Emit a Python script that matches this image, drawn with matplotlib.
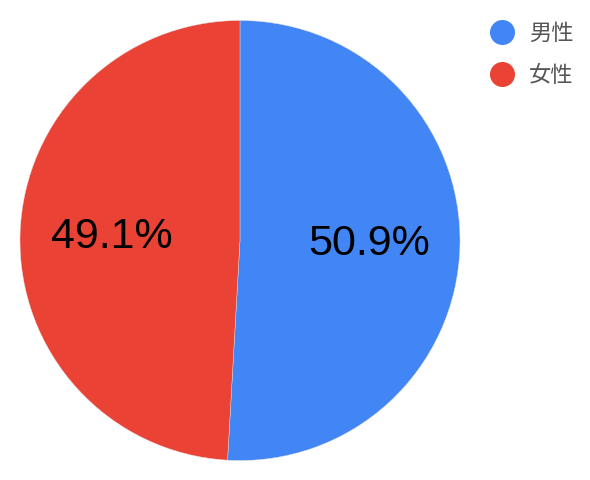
import matplotlib.pyplot as plt
from matplotlib.lines import Line2D

# Data
labels = ['男性', '女性']
values = [50.9, 49.1]
colors = ['#4285F4', '#EA4335']

plt.rcParams['font.family'] = ['Liberation Sans', 'DejaVu Sans']

fig = plt.figure(figsize=(5.9, 4.8), dpi=100)
ax = fig.add_axes([0, 0, 1, 1])

wedges, texts, autotexts = ax.pie(values, colors=colors, startangle=90, counterclock=False,
                                  center=(240, 239.5), radius=220, frame=True,
                                  autopct='%.1f%%', pctdistance=0.585,
                                  wedgeprops=dict(linewidth=0.3, edgecolor='#dddddd'),
                                  textprops=dict(fontsize=31, color='black'))
ax.set_xlim(0, 590)
ax.set_ylim(0, 480)
ax.set_aspect('equal')
ax.axis('off')

handles = [Line2D([], [], marker='o', linestyle='none', markersize=17,
                  markerfacecolor=c, markeredgecolor=c) for c in colors]
leg = fig.legend(handles, labels, loc='upper left', bbox_to_anchor=(489 / 590, 1 - 22 / 480),
                 frameon=False, handlelength=1.2, handletextpad=0.6,
                 labelspacing=0.86, borderpad=0, borderaxespad=0,
                 prop={'family': ['Noto Sans CJK JP', 'DejaVu Sans'], 'size': 16})
for t in leg.get_texts():
    t.set_color('#555555')

fig.savefig('out.png', dpi=100)
